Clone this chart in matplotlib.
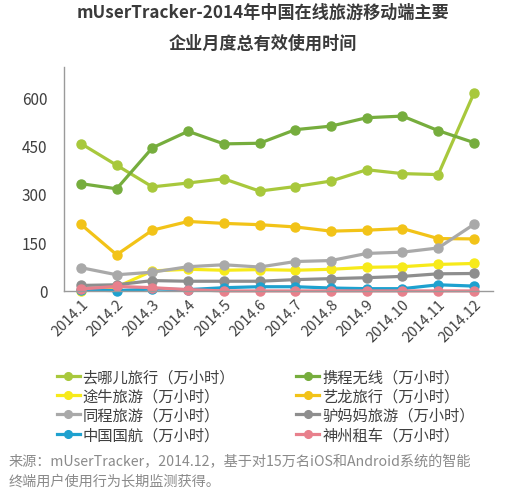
import numpy as np
import matplotlib
matplotlib.use('Agg')
import matplotlib.pyplot as plt

plt.rcParams['font.family'] = ['Noto Sans CJK SC', 'DejaVu Sans']

months = ['2014.1', '2014.2', '2014.3', '2014.4', '2014.5', '2014.6',
          '2014.7', '2014.8', '2014.9', '2014.10', '2014.11', '2014.12']

qunar = [456, 389, 322, 334, 347, 309, 323, 340, 375, 363, 360, 612]
ctrip = [332, 316, 443, 494, 455, 457, 499, 510, 536, 541, 496, 459]
tuniu = [0, 12, 62, 67, 64, 66, 64, 67, 73, 75, 82, 85]
elong = [206, 112, 188, 215, 209, 205, 198, 185, 188, 193, 162, 161]
tongcheng = [72, 50, 58, 75, 81, 74, 91, 94, 116, 120, 133, 206]
lvmama = [17, 19, 32, 30, 30, 30, 35, 38, 41, 45, 53, 54]
airchina = [3, 1, 6, 4, 10, 13, 13, 9, 7, 7, 19, 15]
shenzhou = [6, 14, 10, 4, 0, 0, 0, 0, 0, 0, 0, 0]

names = ['去哪儿旅行（万小时）', '携程无线（万小时）', '途牛旅游（万小时）', '艺龙旅行（万小时）',
         '同程旅游（万小时）', '驴妈妈旅游（万小时）', '中国国航（万小时）', '神州租车（万小时）']
series = [qunar, ctrip, tuniu, elong, tongcheng, lvmama, airchina, shenzhou]
colors = ['#a8c83c', '#76ad3d', '#f7ea1a', '#f2c318', '#a9a9a9', '#8e8e8e', '#1ea1cf', '#e8808c']

fig = plt.figure(figsize=(5.05, 4.89), dpi=100)
ax = fig.add_axes([0.127, 0.403, 0.849, 0.458])

x = np.arange(len(months))
lines = []
for vals, name, c in zip(series, names, colors):
    ln, = ax.plot(x, vals, color=c, lw=2.3, marker='o', ms=6.5, label=name, clip_on=False)
    lines.append(ln)

ax.set_xlim(-0.47, 11.53)
ax.set_ylim(0, 693)
ax.set_yticks([0, 150, 300, 450, 600])
ax.set_xticks(x)
ax.set_xticklabels(months, rotation=45, ha='right', rotation_mode='anchor', fontsize=10.5, color='#404040')
ax.tick_params(axis='y', length=0, labelsize=11, labelcolor='#404040', pad=12)
ax.tick_params(axis='x', length=0, pad=4)
for s in ['top', 'right']:
    ax.spines[s].set_visible(False)
for s in ['left', 'bottom']:
    ax.spines[s].set_color('#9a9a9a')
    ax.spines[s].set_linewidth(1)

fig.text(0.52, 0.973, 'mUserTracker-2014年中国在线旅游移动端主要', ha='center', va='center',
         fontsize=12.3, fontweight='bold', color='#3a3a3a')
fig.text(0.52, 0.91, '企业月度总有效使用时间', ha='center', va='center',
         fontsize=12.3, fontweight='bold', color='#3a3a3a')

order = [0, 2, 4, 6, 1, 3, 5, 7]
fig.legend([lines[i] for i in order], [names[i] for i in order], ncol=2,
           loc='upper left', bbox_to_anchor=(0.085, 0.273), frameon=False,
           fontsize=11, handlelength=1.5, handletextpad=0.2, columnspacing=4.0,
           labelspacing=0.15, labelcolor='#404040', markerscale=0.85)

fig.text(0.016, 0.055, '来源：mUserTracker，2014.12，基于对15万名iOS和Android系统的智能',
         fontsize=10.2, color='#8a8a8a', va='center')
fig.text(0.016, 0.016, '终端用户使用行为长期监测获得。',
         fontsize=10.2, color='#8a8a8a', va='center')

fig.savefig('out.png', dpi=100)
